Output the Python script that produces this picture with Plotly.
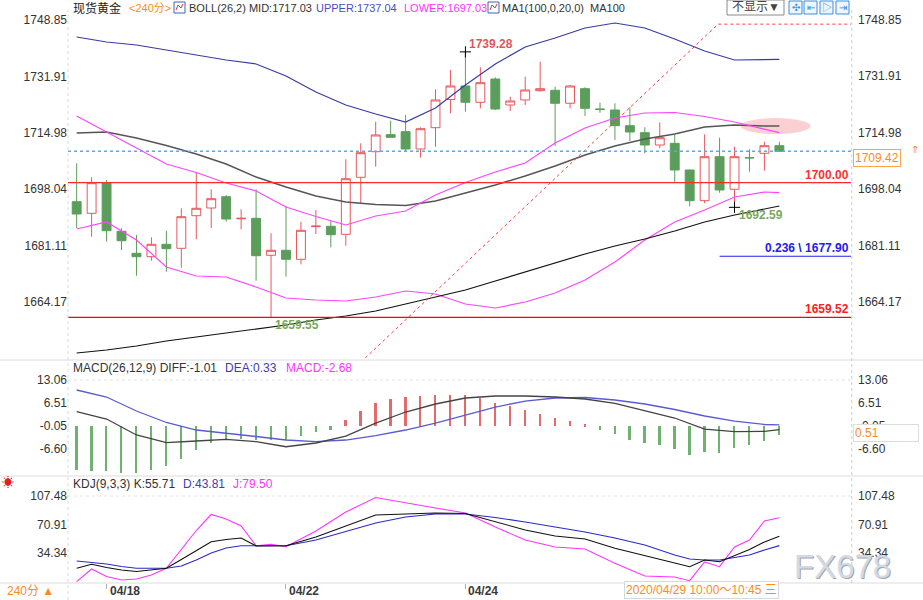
import plotly.graph_objects as go

# ---------------- data ----------------
open_ = [1694.29, 1690.80, 1699.99, 1685.40, 1678.79, 1677.77, 1681.49, 1680.29, 1690.08, 1692.39,
         1695.79, 1689.15, 1689.30, 1678.19, 1679.69, 1676.99, 1686.80, 1686.90, 1684.50, 1701.61,
         1709.30, 1714.41, 1715.31, 1710.11, 1716.51, 1724.98, 1729.03, 1724.14, 1731.13, 1723.32,
         1724.83, 1727.62, 1727.74, 1723.84, 1728.22, 1722.12, 1721.82, 1717.11, 1715.01, 1711.31,
         1711.82, 1703.80, 1694.59, 1707.80, 1698.01, 1707.50, 1708.82, 1711.10]
high = [1705.82, 1701.61, 1700.80, 1686.30, 1684.29, 1683.59, 1685.58, 1692.30, 1702.99, 1698.01,
        1696.30, 1692.00, 1698.01, 1684.80, 1693.08, 1688.28, 1691.79, 1688.79, 1707.02, 1711.82,
        1718.31, 1718.61, 1720.32, 1716.63, 1728.04, 1733.83, 1739.28, 1734.65, 1731.64, 1725.82,
        1731.82, 1736.33, 1728.82, 1729.33, 1728.64, 1724.02, 1723.84, 1722.63, 1716.63, 1718.13,
        1714.32, 1703.90, 1714.53, 1713.50, 1710.80, 1710.02, 1712.30, 1712.30]
low = [1686.39, 1683.78, 1682.27, 1679.78, 1672.06, 1676.57, 1673.26, 1674.47, 1682.99, 1686.39,
       1688.28, 1686.00, 1670.56, 1659.55, 1671.76, 1675.49, 1684.59, 1680.59, 1681.07, 1693.81,
       1704.80, 1713.50, 1709.30, 1707.50, 1710.80, 1720.83, 1721.31, 1722.33, 1721.82, 1721.52,
       1723.32, 1727.32, 1711.01, 1722.33, 1720.02, 1721.01, 1712.81, 1712.51, 1708.82, 1710.32,
       1699.99, 1692.90, 1693.81, 1696.99, 1692.59, 1703.29, 1703.59, 1709.42]
close = [1690.59, 1699.99, 1685.58, 1682.57, 1677.77, 1681.49, 1680.17, 1689.78, 1692.30, 1695.19,
         1689.09, 1689.30, 1678.07, 1679.69, 1676.99, 1685.70, 1686.95, 1684.38, 1701.19, 1709.00,
         1714.32, 1713.62, 1710.11, 1716.21, 1724.83, 1729.03, 1724.14, 1730.02, 1722.12, 1724.53,
         1727.83, 1728.22, 1723.84, 1729.03, 1722.33, 1722.00, 1717.11, 1715.22, 1711.31, 1713.50,
         1703.80, 1694.59, 1707.80, 1697.80, 1707.80, 1707.45, 1711.10, 1709.42]

# indicator lines (sampled at these bar indices)
line_idx = [0, 2, 4, 6, 8, 10, 12, 14, 16, 18, 20, 22, 24, 26, 28, 30, 32, 34, 36, 38, 40, 42, 44, 46, 47]
boll_upper = [1743.74, 1742.24, 1741.34, 1739.84, 1738.34, 1736.84, 1735.64, 1732.03, 1727.23, 1723.32,
              1720.62, 1718.22, 1722.42, 1729.33, 1735.64, 1740.74, 1743.44, 1746.45, 1747.95, 1746.45,
              1743.14, 1739.54, 1736.84, 1736.84, 1737.04]
boll_mid = [1714.92, 1715.22, 1713.41, 1711.16, 1708.61, 1705.61, 1701.70, 1698.70, 1696.00, 1694.20,
            1693.44, 1693.14, 1694.50, 1696.90, 1699.30, 1702.00, 1705.01, 1708.31, 1711.01, 1713.11,
            1714.62, 1716.72, 1717.32, 1717.02, 1717.03]
ma1 = [1720.02, 1715.22, 1710.41, 1705.61, 1703.05, 1699.90, 1697.50, 1692.69, 1689.84, 1687.29,
       1689.99, 1691.49, 1696.30, 1700.05, 1703.20, 1705.91, 1711.91, 1716.42, 1719.42, 1720.92,
       1721.07, 1719.87, 1718.22, 1716.12, 1715.01]
boll_lower = [1686.09, 1688.19, 1682.78, 1674.68, 1671.97, 1671.67, 1668.67, 1665.37, 1664.77, 1664.47,
              1665.67, 1667.47, 1666.57, 1663.56, 1662.36, 1664.17, 1666.87, 1670.77, 1676.18, 1682.78,
              1688.19, 1691.79, 1695.70, 1697.20, 1697.03]
ma100 = [1648.85, 1649.75, 1650.95, 1652.45, 1653.66, 1654.86, 1656.06, 1657.26, 1658.76, 1659.96,
         1661.46, 1663.56, 1665.67, 1667.77, 1670.47, 1673.17, 1675.88, 1678.58, 1680.98, 1683.08,
         1685.49, 1688.19, 1690.29, 1692.09, 1692.99]

macd_diff = [4.07, 1.99, -2.56, -4.76, -4.27, -3.79, -4.47, -5.90, -4.84, -2.85, 0.85, 3.99, 6.27,
             7.98, 8.55, 8.55, 8.26, 7.69, 6.47, 4.42, 2.28, -0.90, -1.62, -1.55, -1.01]
macd_dea = [10.26, 8.26, 4.27, 1.00, -1.14, -1.99, -2.99, -3.99, -4.47, -3.99, -2.71, -1.14, 0.85,
            3.13, 5.41, 7.12, 7.98, 8.12, 7.41, 6.27, 4.70, 2.85, 1.42, 0.43, 0.33]
macd_hist = [-12.5, -12.8, -12.8, -13.5, -13.5, -12.5, -11.4, -9.5, -6.8, -4.9, -4.0, -3.6, -4.0, -4.0,
             -4.0, -2.8, -1.6, -1.1, 1.7, 4.4, 6.5, 7.6, 8.3, 8.6, 8.9, 8.9, 8.8, 8.0, 6.6, 5.6, 4.6,
             3.4, 2.4, 1.3, 0.5, -1.2, -2.3, -4.0, -4.8, -5.4, -6.6, -8.3, -7.3, -7.6, -6.4, -5.4,
             -4.2, -2.68]

kdj_idx = [0, 1, 2, 3, 4, 5, 6, 7, 8, 9, 10, 11, 12, 13, 14, 16, 18, 20, 22, 24, 26, 28, 30, 32, 34,
           36, 38, 40, 41, 42, 43, 44, 45, 46, 47]
kdj_k = [14.70, 19.84, 15.73, 12.52, 10.60, 12.52, 14.70, 26.00, 36.90, 48.84, 51.66, 53.59, 43.32,
         43.70, 43.70, 54.87, 68.98, 83.10, 84.38, 85.67, 85.02, 74.12, 63.85, 56.15, 52.30, 40.37,
         30.49, 21.51, 16.76, 25.36, 23.17, 30.49, 38.83, 48.45, 55.71]
kdj_d = [24.07, 22.15, 20.22, 17.01, 14.70, 14.70, 14.70, 17.66, 25.36, 34.34, 40.75, 43.70, 43.70,
         43.70, 43.70, 51.02, 61.93, 72.83, 80.53, 84.38, 84.38, 79.89, 74.12, 67.70, 61.28, 53.59,
         44.60, 31.77, 26.64, 25.36, 25.36, 28.56, 31.77, 38.19, 43.81]
kdj_j = [-2.49, 13.81, 4.18, -0.31, 0.97, 6.11, 14.70, 39.47, 63.21, 83.74, 77.97, 68.98, 43.70,
         45.50, 42.42, 62.57, 86.95, 105.56, 98.50, 92.08, 85.67, 67.70, 51.02, 42.04, 39.47, 21.12,
         4.82, 3.54, -1.21, 22.79, 16.76, 42.04, 51.02, 75.40, 79.50]

main_ticks = [1748.85, 1731.91, 1714.98, 1698.04, 1681.11, 1664.17]
macd_ticks = [13.06, 6.51, -0.05, -6.60]
kdj_ticks = [107.48, 70.91, 34.34]
date_tick_idx = [2, 14, 26]
date_tick_labels = ["04/18", "04/22", "04/24"]

last_price = 1709.42
level_1700 = 1700.00
level_1659 = 1659.52
fib_level = 1677.90
fib_start_idx = 43
high_mark = (26, 1739.28)
low_mark1 = (13, 1659.55)
low_mark2 = (44, 1692.59)
trend_x = [19.3, 42.9, 52.5]
trend_y = [1647.35, 1747.6, 1747.6]

# ---------------- geometry helpers ----------------
L_PX, R_PX, T_PX, B_PX = 68, 851, 10, 583
X_RANGE = [-0.58, 51.79]


def px_x(x):
    return (x - L_PX) / (R_PX - L_PX)


def px_y(y):
    return (B_PX - y) / (B_PX - T_PX)


RED = "#e8575c"
GREEN = "#5b9e5b"
FONT = "Arial, 'Noto Sans CJK SC', sans-serif"
ORANGE = "#ff8a1c"

N = len(open_)
idx = list(range(N))

fig = go.Figure()

fig.add_trace(go.Candlestick(
    x=idx, open=open_, high=high, low=low, close=close,
    increasing=dict(line=dict(color=RED, width=1), fillcolor="white"),
    decreasing=dict(line=dict(color=GREEN, width=1), fillcolor=GREEN),
    whiskerwidth=0, xaxis="x", yaxis="y", hoverinfo="skip"))

for vals, col, w in [(boll_upper, "#3a3aa4", 1.2), (boll_mid, "#555555", 1.4),
                     (ma1, "#ff44ff", 1.2), (boll_lower, "#ff44ff", 1.2), (ma100, "#111111", 1.2)]:
    fig.add_trace(go.Scatter(x=line_idx, y=vals, mode="lines", line=dict(color=col, width=w),
                             xaxis="x", yaxis="y", hoverinfo="skip"))

# dashed trend line
fig.add_trace(go.Scatter(x=trend_x, y=trend_y, mode="lines",
                         line=dict(color="#ff4040", width=1, dash="3px,3px"),
                         xaxis="x", yaxis="y", hoverinfo="skip"))

# marker crosses
fig.add_trace(go.Scatter(x=[high_mark[0], low_mark2[0]], y=[high_mark[1], low_mark2[1]], mode="markers",
                         marker=dict(symbol="cross-thin", size=8, line=dict(color="black", width=1)),
                         xaxis="x", yaxis="y", hoverinfo="skip"))

# MACD
fig.add_trace(go.Bar(x=idx, y=macd_hist, width=0.12,
                     marker=dict(color=["#e36a6a" if v > 0 else "#6fb26f" for v in macd_hist], line=dict(width=0)),
                     xaxis="x", yaxis="y2", hoverinfo="skip"))
fig.add_trace(go.Scatter(x=line_idx, y=macd_dea, mode="lines", line=dict(color="#5a5ad2", width=1.3),
                         xaxis="x", yaxis="y2", hoverinfo="skip"))
fig.add_trace(go.Scatter(x=line_idx, y=macd_diff, mode="lines", line=dict(color="#444444", width=1.3),
                         xaxis="x", yaxis="y2", hoverinfo="skip"))

# KDJ
for vals, col in [(kdj_j, "#ff33ff"), (kdj_d, "#2a2ac8"), (kdj_k, "#111111")]:
    fig.add_trace(go.Scatter(x=kdj_idx, y=vals, mode="lines", line=dict(color=col, width=1.1),
                             xaxis="x", yaxis="y3", hoverinfo="skip"))

shapes = []
# horizontal levels
shapes.append(dict(type="line", xref="paper", yref="y", x0=0, x1=1, y0=level_1700, y1=level_1700,
                   line=dict(color="#ff2a2a", width=1.2)))
shapes.append(dict(type="line", xref="paper", yref="y", x0=0, x1=1, y0=level_1659, y1=level_1659,
                   line=dict(color="#ff0000", width=1.2)))
shapes.append(dict(type="line", xref="paper", yref="y", x0=0, x1=1, y0=last_price, y1=last_price,
                   line=dict(color="#5aaaf0", width=1.5, dash="3px,3px")))
shapes.append(dict(type="line", xref="x", yref="y", x0=fib_start_idx, x1=X_RANGE[1], y0=fib_level, y1=fib_level,
                   line=dict(color="#2020ee", width=1)))
# pink ellipse
shapes.append(dict(type="circle", xref="x", yref="y", x0=44.4, x1=49.1, y0=1714.6, y1=1719.4,
                   fillcolor="rgba(248,170,175,0.55)", line=dict(width=0), layer="below"))
# panel separators
for ypx in [360, 476, 583]:
    shapes.append(dict(type="line", xref="paper", yref="paper", x0=px_x(0), x1=px_x(923),
                       y0=px_y(ypx), y1=px_y(ypx), line=dict(color="#dcdcdc", width=1)))
# vertical borders
shapes.append(dict(type="line", xref="paper", yref="paper", x0=0, x1=0, y0=px_y(600), y1=px_y(10),
                   line=dict(color="#d4dbe6", width=1, dash="dot")))
shapes.append(dict(type="line", xref="paper", yref="paper", x0=1.001, x1=1.001, y0=px_y(583), y1=px_y(10),
                   line=dict(color="#cccccc", width=1, dash="dot")))
# dotted gridlines top of sub panels
for ypx in [380, 496]:
    shapes.append(dict(type="line", xref="paper", yref="paper", x0=0, x1=1, y0=px_y(ypx), y1=px_y(ypx),
                       line=dict(color="#e2e2e2", width=1, dash="dot")))
# small icons in title bar
for x0 in [174, 488]:
    shapes.append(dict(type="rect", xref="paper", yref="paper", x0=px_x(x0), x1=px_x(x0 + 11),
                       y0=px_y(13), y1=px_y(2), line=dict(color="#4060b0", width=1), fillcolor="white"))
    shapes.append(dict(type="path", xref="paper", yref="paper",
                       path="M {} {} L {} {} L {} {} L {} {}".format(
                           px_x(x0 + 2), px_y(10), px_x(x0 + 4), px_y(5), px_x(x0 + 7), px_y(8),
                           px_x(x0 + 9), px_y(4)),
                       line=dict(color="#e03030", width=1)))
# top right buttons
shapes.append(dict(type="rect", xref="paper", yref="paper", x0=px_x(727), x1=px_x(784),
                   y0=px_y(15), y1=px_y(0), line=dict(color="#8a8a8a", width=1), fillcolor="white"))
for x0 in [789, 804, 820, 836]:
    shapes.append(dict(type="rect", xref="paper", yref="paper", x0=px_x(x0), x1=px_x(x0 + 13),
                       y0=px_y(14), y1=px_y(1), line=dict(color="#3b8fd8", width=1), fillcolor="#eef5fc"))

annotations = []


def ann(text, x, y, color="#333333", size=12, xanchor="left", yanchor="middle", xref="paper", yref="paper",
        **kw):
    d = dict(text=text, x=x, y=y, xref=xref, yref=yref, xanchor=xanchor, yanchor=yanchor, showarrow=False,
             font=dict(family=FONT, size=size, color=color))
    d.update(kw)
    annotations.append(d)


# title legends
TS = 11
ann("现货黄金", px_x(71), px_y(8), color="#222222", size=12)
ann("&lt;240分&gt;", px_x(127), px_y(8), color=ORANGE, size=TS)
ann("BOLL(26,2) MID:1717.03", px_x(187), px_y(8), color="#333333", size=TS)
ann("UPPER:1737.04", px_x(314), px_y(8), color="#4b4bc4", size=TS)
ann("LOWER:1697.03", px_x(402), px_y(8), color="#ff33ff", size=TS)
ann("MA1(100,0,20,0)  MA100", px_x(500), px_y(8), color="#333333", size=TS)
ann("不显示▼", px_x(755.5), px_y(7.5), color="#444444", xanchor="center")
for x0, sym in zip([789, 804, 820, 836], ["✣", "⇤", "▷", "⇥"]):
    ann(sym, px_x(x0 + 6.5), px_y(7.5), color="#3b8fd8", size=10, xanchor="center")

ann("MACD(26,12,9) DIFF:-1.01", px_x(71), px_y(368), color="#333333")
ann("DEA:0.33", px_x(223), px_y(368), color="#3c3cb4")
ann("MACD:-2.68", px_x(284), px_y(368), color="#ff33ff")

ann("☀", px_x(8), px_y(483), color="#e02020", size=12, xanchor="center")
ann("KDJ(9,3,3) K:55.71", px_x(71), px_y(484), color="#333333")
ann("D:43.81", px_x(181), px_y(484), color="#3c3cb4")
ann("J:79.50", px_x(231), px_y(484), color="#ff33ff")

# right axis labels
for v in main_ticks:
    ann("{:.2f}".format(v), 1, v, yref="y", xshift=5, color="#333333")
for v in macd_ticks:
    ann("{:.2f}".format(v), 1, v, yref="y2", xshift=5, color="#333333")
for v in kdj_ticks:
    ann("{:.2f}".format(v), 1, v, yref="y3", xshift=5, color="#333333")

# level labels
ann("<b>1700.00</b>", 1, level_1700, yref="y", xanchor="right", yanchor="bottom", color="#ff3030", yshift=-1)
ann("<b>1659.52</b>", 1, level_1659, yref="y", xanchor="right", yanchor="bottom", color="#ff2020", yshift=-1)
ann("<b>0.236 \\ 1677.90</b>", 1, fib_level, yref="y", xanchor="right", yanchor="bottom", color="#2020ee",
    yshift=-1)
ann("<b>1739.28</b>", high_mark[0], high_mark[1], xref="x", yref="y", xanchor="left", yanchor="bottom",
    color="#e05858", xshift=2, yshift=-1)
ann("<b>1659.55</b>", low_mark1[0], low_mark1[1], xref="x", yref="y", xanchor="left", yanchor="top",
    color="#7aa862", xshift=2, yshift=1)
ann("<b>1692.59</b>", low_mark2[0], low_mark2[1], xref="x", yref="y", xanchor="left", yanchor="top",
    color="#7aa862", xshift=2, yshift=1)

# last price box
ann("1709.42", 1, last_price, yref="y", xanchor="left", yanchor="top", color=ORANGE, xshift=2, yshift=2,
    bordercolor="#ffa64d", borderwidth=1, bgcolor="white", borderpad=1, width=44, align="left")
ann("⇑", px_x(915), px_y(149), color=ORANGE, size=10, xanchor="center")
ann("0.51", 1, -2.0, yref="y2", xanchor="left", color=ORANGE, xshift=2,
    bordercolor="#dddddd", borderwidth=1, bgcolor="white", borderpad=1, width=62, align="left")

# watermark
ann("FX678", px_x(843.5), px_y(567), color="#9ea7b2", size=33, xanchor="center")
ann("FX678", px_x(842.5), px_y(566), color="#d3d9e1", size=33, xanchor="center")

# bottom bar
ann("240分 ▲", px_x(5), px_y(591), color=ORANGE)
for i, t in zip(date_tick_idx, date_tick_labels):
    ann("<b>" + t + "</b>", i, px_y(591), xref="x", color="#3a3a3a", xshift=1)
ann("2020/04/29 10:00～10:45 三", px_x(701), px_y(590), color=ORANGE, xanchor="center",
    bgcolor="white", bordercolor="#d8d8d8", borderwidth=1, borderpad=1)

axis_common = dict(showgrid=False, zeroline=False, showline=False, ticks="",
                   tickfont=dict(family=FONT, size=12, color="#333333"), fixedrange=True)

fig.update_layout(
    width=923, height=600,
    margin=dict(l=L_PX, r=923 - R_PX, t=T_PX, b=600 - B_PX, pad=0),
    paper_bgcolor="white", plot_bgcolor="white",
    showlegend=False, boxgap=0.15, bargap=0,
    xaxis=dict(domain=[0, 1], range=X_RANGE, anchor="y3", showgrid=False, zeroline=False, showline=False,
               tickvals=date_tick_idx, ticks="outside", ticklen=5, tickcolor="#b0b0b0",
               showticklabels=False, rangeslider=dict(visible=False), fixedrange=True),
    yaxis=dict(domain=[px_y(358), 1], range=[1647.35, 1751.85], tickvals=main_ticks,
               ticktext=["{:.2f}".format(v) for v in main_ticks], anchor="x", **axis_common),
    yaxis2=dict(domain=[px_y(474), px_y(361)], range=[-13.67, 18.52], tickvals=macd_ticks,
                ticktext=["{:.2f}".format(v) for v in macd_ticks], anchor="x", **axis_common),
    yaxis3=dict(domain=[0, px_y(478)], range=[-4.16, 130.58], tickvals=kdj_ticks,
                ticktext=["{:.2f}".format(v) for v in kdj_ticks], anchor="x", **axis_common),
    shapes=shapes, annotations=annotations,
    font=dict(family=FONT, size=12),
)

fig.write_html("out.html")
